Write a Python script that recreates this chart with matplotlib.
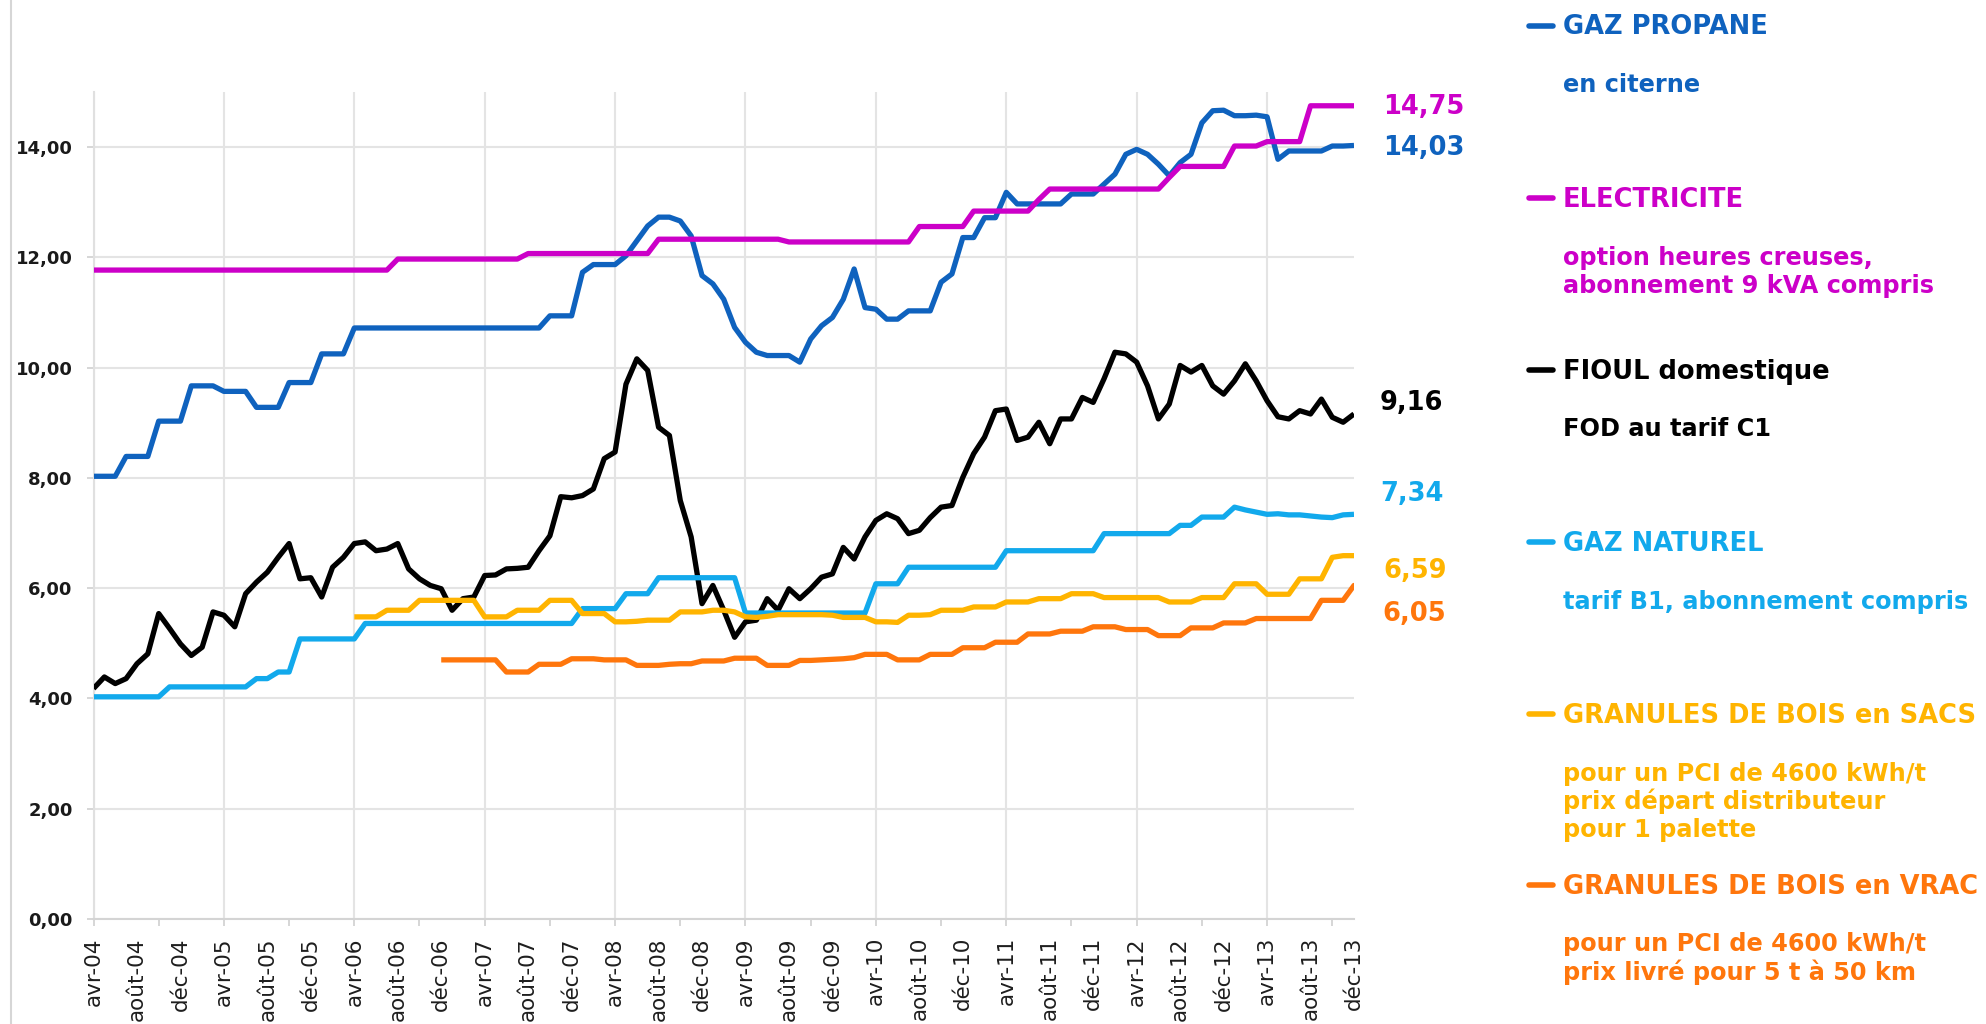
import numpy as np
import pandas as pd
import matplotlib
matplotlib.use('Agg')
import matplotlib.pyplot as plt
from matplotlib.lines import Line2D

plt.rcParams['font.family'] = 'DejaVu Sans'

# Mois : avr-04 .. déc-13 (117 mois)
mois_fr = ['janv', 'févr', 'mars', 'avr', 'mai', 'juin', 'juil', 'août', 'sept', 'oct', 'nov', 'déc']
dates = pd.date_range('2004-04-01', '2013-12-01', freq='MS')
etiquettes = [f"{mois_fr[d.month - 1]}-{d.year % 100:02d}" for d in dates]

# Prix
propane = [
    8.03, 8.03, 8.03, 8.39, 8.39, 8.39, 9.03, 9.03, 9.03, 9.67, 9.67, 9.67,
    9.57, 9.57, 9.57, 9.28, 9.28, 9.28, 9.73, 9.73, 9.73, 10.25, 10.25, 10.25,
    10.72, 10.72, 10.72, 10.72, 10.72, 10.72, 10.72, 10.72, 10.72, 10.72, 10.72, 10.72,
    10.72, 10.72, 10.72, 10.72, 10.72, 10.72, 10.94, 10.94, 10.94, 11.73, 11.87, 11.87,
    11.87, 12.03, 12.30, 12.57, 12.73, 12.73, 12.66, 12.39, 11.67, 11.52, 11.24, 10.73,
    10.46, 10.28, 10.22, 10.22, 10.22, 10.10, 10.52, 10.76, 10.91, 11.24, 11.79, 11.09,
    11.06, 10.88, 10.88, 11.03, 11.03, 11.03, 11.55, 11.70, 12.36, 12.36, 12.72, 12.72,
    13.18, 12.97, 12.97, 12.97, 12.97, 12.97, 13.15, 13.15, 13.15, 13.33, 13.51, 13.87,
    13.96, 13.87, 13.69, 13.48, 13.72, 13.87, 14.44, 14.66, 14.67, 14.57, 14.57, 14.58,
    14.55, 13.78, 13.93, 13.93, 13.93, 13.93, 14.02, 14.02, 14.03,
]
electricite = [
    11.77, 11.77, 11.77, 11.77, 11.77, 11.77, 11.77, 11.77, 11.77, 11.77, 11.77, 11.77,
    11.77, 11.77, 11.77, 11.77, 11.77, 11.77, 11.77, 11.77, 11.77, 11.77, 11.77, 11.77,
    11.77, 11.77, 11.77, 11.77, 11.97, 11.97, 11.97, 11.97, 11.97, 11.97, 11.97, 11.97,
    11.97, 11.97, 11.97, 11.97, 12.07, 12.07, 12.07, 12.07, 12.07, 12.07, 12.07, 12.07,
    12.07, 12.07, 12.07, 12.07, 12.33, 12.33, 12.33, 12.33, 12.33, 12.33, 12.33, 12.33,
    12.33, 12.33, 12.33, 12.33, 12.28, 12.28, 12.28, 12.28, 12.28, 12.28, 12.28, 12.28,
    12.28, 12.28, 12.28, 12.28, 12.56, 12.56, 12.56, 12.56, 12.56, 12.84, 12.84, 12.84,
    12.84, 12.84, 12.84, 13.05, 13.24, 13.24, 13.24, 13.24, 13.24, 13.24, 13.24, 13.24,
    13.24, 13.24, 13.24, 13.45, 13.65, 13.65, 13.65, 13.65, 13.65, 14.02, 14.02, 14.02,
    14.10, 14.10, 14.10, 14.10, 14.75, 14.75, 14.75, 14.75, 14.75,
]
fioul = [
    4.18, 4.39, 4.27, 4.36, 4.63, 4.81, 5.54, 5.27, 4.99, 4.78, 4.93, 5.57,
    5.51, 5.30, 5.90, 6.11, 6.29, 6.56, 6.81, 6.17, 6.19, 5.84, 6.38, 6.56,
    6.81, 6.84, 6.68, 6.71, 6.81, 6.35, 6.17, 6.05, 5.99, 5.60, 5.81, 5.84,
    6.23, 6.24, 6.35, 6.36, 6.38, 6.68, 6.95, 7.66, 7.64, 7.68, 7.80, 8.35,
    8.47, 9.70, 10.16, 9.95, 8.92, 8.77, 7.59, 6.93, 5.72, 6.05, 5.60, 5.11,
    5.39, 5.42, 5.81, 5.60, 5.99, 5.81, 5.99, 6.20, 6.26, 6.74, 6.53, 6.93,
    7.23, 7.35, 7.26, 6.99, 7.05, 7.28, 7.47, 7.50, 8.01, 8.44, 8.74, 9.22,
    9.25, 8.68, 8.74, 9.01, 8.62, 9.07, 9.07, 9.46, 9.37, 9.80, 10.28, 10.25,
    10.10, 9.67, 9.07, 9.34, 10.04, 9.92, 10.04, 9.67, 9.52, 9.76, 10.07, 9.76,
    9.40, 9.11, 9.07, 9.22, 9.16, 9.43, 9.10, 9.01, 9.16,
]
gaz_naturel = [
    4.03, 4.03, 4.03, 4.03, 4.03, 4.03, 4.03, 4.21, 4.21, 4.21, 4.21, 4.21,
    4.21, 4.21, 4.21, 4.36, 4.36, 4.48, 4.48, 5.08, 5.08, 5.08, 5.08, 5.08,
    5.08, 5.36, 5.36, 5.36, 5.36, 5.36, 5.36, 5.36, 5.36, 5.36, 5.36, 5.36,
    5.36, 5.36, 5.36, 5.36, 5.36, 5.36, 5.36, 5.36, 5.36, 5.63, 5.63, 5.63,
    5.63, 5.90, 5.90, 5.90, 6.19, 6.19, 6.19, 6.19, 6.19, 6.19, 6.19, 6.19,
    5.55, 5.55, 5.55, 5.55, 5.55, 5.55, 5.55, 5.55, 5.55, 5.55, 5.55, 5.55,
    6.08, 6.08, 6.08, 6.38, 6.38, 6.38, 6.38, 6.38, 6.38, 6.38, 6.38, 6.38,
    6.68, 6.68, 6.68, 6.68, 6.68, 6.68, 6.68, 6.68, 6.68, 6.99, 6.99, 6.99,
    6.99, 6.99, 6.99, 6.99, 7.14, 7.14, 7.29, 7.29, 7.29, 7.47, 7.42, 7.38,
    7.34, 7.35, 7.33, 7.33, 7.31, 7.29, 7.28, 7.33, 7.34,
]
debut_sacs = 'avr-06'
granules_sacs = [
    5.48, 5.48, 5.48, 5.60, 5.60, 5.60, 5.78, 5.78, 5.78, 5.78, 5.78, 5.78,
    5.48, 5.48, 5.48, 5.60, 5.60, 5.60, 5.78, 5.78, 5.78, 5.54, 5.54, 5.54,
    5.39, 5.39, 5.40, 5.42, 5.42, 5.42, 5.57, 5.57, 5.57, 5.60, 5.60, 5.57,
    5.48, 5.47, 5.49, 5.52, 5.52, 5.52, 5.52, 5.52, 5.51, 5.47, 5.47, 5.47,
    5.39, 5.39, 5.38, 5.51, 5.51, 5.52, 5.60, 5.60, 5.60, 5.66, 5.66, 5.66,
    5.75, 5.75, 5.75, 5.81, 5.81, 5.81, 5.90, 5.90, 5.90, 5.83, 5.83, 5.83,
    5.83, 5.83, 5.83, 5.75, 5.75, 5.75, 5.83, 5.83, 5.83, 6.08, 6.08, 6.08,
    5.89, 5.89, 5.89, 6.17, 6.17, 6.17, 6.56, 6.59, 6.59,
]
debut_vrac = 'déc-06'
granules_vrac = [
    4.70, 4.70, 4.70, 4.70, 4.70, 4.70,
    4.48, 4.48, 4.48, 4.62, 4.62, 4.62, 4.72, 4.72, 4.72, 4.70, 4.70, 4.70,
    4.60, 4.60, 4.60, 4.62, 4.63, 4.63, 4.68, 4.68, 4.68, 4.73, 4.73, 4.73,
    4.60, 4.60, 4.60, 4.69, 4.69, 4.70, 4.71, 4.72, 4.74, 4.80, 4.80, 4.80,
    4.70, 4.70, 4.70, 4.80, 4.80, 4.80, 4.92, 4.92, 4.92, 5.02, 5.02, 5.02,
    5.17, 5.17, 5.17, 5.22, 5.22, 5.22, 5.30, 5.30, 5.30, 5.25, 5.25, 5.25,
    5.14, 5.14, 5.14, 5.28, 5.28, 5.28, 5.37, 5.37, 5.37, 5.45, 5.45, 5.45,
    5.45, 5.45, 5.45, 5.78, 5.78, 5.78, 6.05, 6.05, 6.05,
]

series = [propane, electricite, fioul, gaz_naturel, granules_sacs, granules_vrac]
debuts = [etiquettes[0], etiquettes[0], etiquettes[0], etiquettes[0], debut_sacs, debut_vrac]
couleurs = ['#0F62BE', '#CC00C8', '#000000', '#12A9EC', '#FFB400', '#FF760C']
valeurs_fin = ['14,03', '14,75', '9,16', '7,34', '6,59', '6,05']

titres = ['GAZ PROPANE', 'ELECTRICITE', 'FIOUL domestique', 'GAZ NATUREL',
          'GRANULES DE BOIS en SACS', 'GRANULES DE BOIS en VRAC']
details = [
    ['en citerne'],
    ['option heures creuses,', 'abonnement 9 kVA compris'],
    ['FOD au tarif C1'],
    ['tarif B1, abonnement compris'],
    ['pour un PCI de 4600 kWh/t', 'prix départ distributeur', 'pour 1 palette'],
    ['pour un PCI de 4600 kWh/t', 'prix livré pour 5 t à 50 km'],
]

LARGEUR, HAUTEUR = 1986, 1024


def fx(px):
    return px / LARGEUR


def fy(py):
    return 1 - py / HAUTEUR


fig = plt.figure(figsize=(LARGEUR / 100, HAUTEUR / 100), dpi=100)
ax = fig.add_axes([fx(93.5), fy(919), fx(1354) - fx(93.5), fy(92) - fy(919)])

# courbes
for valeurs, debut, couleur in zip(series, debuts, couleurs):
    i0 = etiquettes.index(debut)
    x = np.arange(i0, i0 + len(valeurs))
    ax.plot(x, valeurs, color=couleur, lw=3.8, solid_joinstyle='round', solid_capstyle='butt', zorder=3)

# valeurs finales (décalages en pixels par rapport au dernier point)
decalages = [(29, -10), (29, -8), (26, 4), (26, 13), (29, -22), (28, -36)]
for valeurs, couleur, texte, (dx, dy) in zip(series, couleurs, valeurs_fin, decalages):
    ax.annotate(texte, xy=(len(etiquettes) - 1, valeurs[-1]), xytext=(dx, dy),
                textcoords='offset pixels', color=couleur, fontsize=18.5,
                fontweight='bold', ha='left', va='baseline', annotation_clip=False)

# axes
ax.set_xlim(0, len(etiquettes) - 1)
ax.set_ylim(0, 15)
ax.set_yticks(np.arange(0, 15, 2))
ax.set_yticklabels([f"{v:.2f}".replace('.', ',') for v in np.arange(0, 15, 2)],
                   fontsize=13, fontweight='bold', color='#1a1a1a')
ax.set_xticks(np.arange(0, len(etiquettes), 4))
ax.set_xticklabels(etiquettes[::4], rotation=90, fontsize=15.5, color='#1e1e1e')
ax.set_xticks(np.arange(0, len(etiquettes), 6), minor=True)
ax.xaxis.remove_overlapping_locs = False
ax.tick_params(axis='x', which='major', length=0, pad=13)
ax.tick_params(axis='x', which='minor', length=5, width=1.2, color='#D0D0D0')
ax.tick_params(axis='y', length=5, width=1.2, color='#D0D0D0', pad=10)

ax.yaxis.grid(True, color='#E4E4E4', lw=1.5)
for m in range(0, len(etiquettes), 12):
    ax.axvline(m, color='#E4E4E4', lw=1.5, zorder=0)
ax.set_axisbelow(True)
for cote in ['top', 'right']:
    ax.spines[cote].set_visible(False)
ax.spines['left'].set_color('#E0E0E0')
ax.spines['left'].set_linewidth(1.5)
ax.spines['bottom'].set_color('#D4D4D4')
ax.spines['bottom'].set_linewidth(1.5)

# bordure gauche
fig.add_artist(Line2D([fx(11), fx(11)], [0, 1], color='#D6D6D6', lw=1.5))

# légende à droite
lignes_titres = [34.5, 207, 379, 551, 723, 894]
for titre, lignes, couleur, base in zip(titres, details, couleurs, lignes_titres):
    fig.add_artist(Line2D([fx(1529), fx(1553)], [fy(base - 9)] * 2, color=couleur,
                          lw=4, solid_capstyle='round'))
    fig.text(fx(1563), fy(base), titre, color=couleur, fontsize=18.5,
             fontweight='bold', ha='left', va='baseline')
    for k, ligne in enumerate(lignes):
        fig.text(fx(1563), fy(base + 57.5 + 28.5 * k), ligne, color=couleur,
                 fontsize=17.3, fontweight='bold', ha='left', va='baseline')

fig.savefig('out.png', dpi=100)
